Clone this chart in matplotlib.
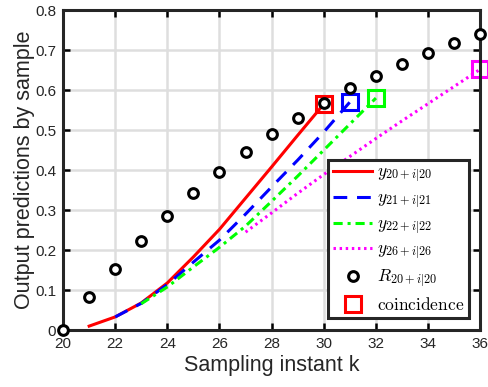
import numpy as np
import matplotlib
matplotlib.use("Agg")
import matplotlib.pyplot as plt

# reference signal R_{20+i|20}
k_ref = [20, 21, 22, 23, 24, 25, 26, 27, 28, 29, 30, 31, 32, 33, 34, 35, 36]
r_ref = [0.0, 0.082, 0.154, 0.222, 0.285, 0.343, 0.396, 0.444, 0.489, 0.531,
         0.567, 0.604, 0.635, 0.664, 0.692, 0.717, 0.74]

# predictions made at sample 20, 21, 22 and 26
k20 = [21, 22, 23, 24, 25, 26, 27, 28, 29, 30]
y20 = [0.01, 0.033, 0.068, 0.118, 0.183, 0.252, 0.33, 0.408, 0.487, 0.565]

k21 = [22, 23, 24, 25, 26, 27, 28, 29, 30, 31]
y21 = [0.033, 0.067, 0.114, 0.17, 0.225, 0.29, 0.358, 0.425, 0.495, 0.57]

k22 = [23, 24, 25, 26, 27, 28, 29, 30, 31, 32]
y22 = [0.066, 0.108, 0.158, 0.207, 0.26, 0.322, 0.385, 0.45, 0.515, 0.58]

k26 = [27, 28, 29, 30, 31, 32, 33, 34, 35, 36]
y26 = [0.245, 0.293, 0.342, 0.389, 0.434, 0.479, 0.523, 0.566, 0.609, 0.652]

plt.rcParams['font.family'] = ['Liberation Sans', 'DejaVu Sans']
plt.rcParams['mathtext.fontset'] = 'cm'

fig = plt.figure(figsize=(4.89, 3.87), dpi=100)
ax = fig.add_axes([0.129, 0.147, 0.853, 0.827])

ax.plot(k20, y20, color='red', lw=2.2, label=r'$y_{20+i|20}$')
ax.plot(k21, y21, color='blue', lw=2.2, dashes=(4.5, 3.2), label=r'$y_{21+i|21}$')
ax.plot(k22, y22, color='#00ff00', lw=2.2, dashes=(3.0, 1.6, 1.0, 1.6), label=r'$y_{22+i|22}$')
ax.plot(k26, y26, color='magenta', lw=2.2, dashes=(0.8, 1.2), label=r'$y_{26+i|26}$')
ax.plot(k_ref, r_ref, 'o', ms=7, mfc='white', mec='black', mew=2.2, ls='none',
        clip_on=False, zorder=5, label=r'$R_{20+i|20}$')

# coincidence squares at the end of each prediction
ends = [(k20[-1], y20[-1], 'red'), (k21[-1], y21[-1], 'blue'),
        (k22[-1], y22[-1], '#00ff00'), (k26[-1], y26[-1], 'magenta')]
for i, (kk, yy, c) in enumerate(ends):
    ax.plot(kk, yy, 's', ms=12, mfc='none', mec=c, mew=2.2, clip_on=False,
            label=r'$\mathrm{coincidence}$' if i == 0 else None)

ax.set_xlim(20, 36)
ax.set_ylim(0, 0.8)
ax.set_xticks(np.arange(20, 37, 2))
ax.set_yticks(np.arange(0, 0.81, 0.1))
ax.set_yticklabels(['0', '0.1', '0.2', '0.3', '0.4', '0.5', '0.6', '0.7', '0.8'])
ax.grid(True, color='#dedede', lw=1.8)
ax.set_axisbelow(True)
ax.tick_params(direction='in', top=True, right=True, length=5, width=1.8,
               labelsize=11, labelcolor='#262626', pad=5)
for s in ax.spines.values():
    s.set_linewidth(2.2)
    s.set_color('#262626')

ax.set_xlabel('Sampling instant k', fontsize=15.5, color='#262626', labelpad=3)
ax.set_ylabel('Output predictions by sample', fontsize=15.5, color='#262626', labelpad=0)

leg = ax.legend(loc='lower right', bbox_to_anchor=(0.974, 0.037), fontsize=12.5,
                handlelength=2.2, handletextpad=0.3, labelspacing=0.33,
                borderpad=0.3, borderaxespad=0, fancybox=False, framealpha=1,
                edgecolor='#262626')
leg.get_frame().set_linewidth(2.2)

fig.savefig('out.png', dpi=100)
